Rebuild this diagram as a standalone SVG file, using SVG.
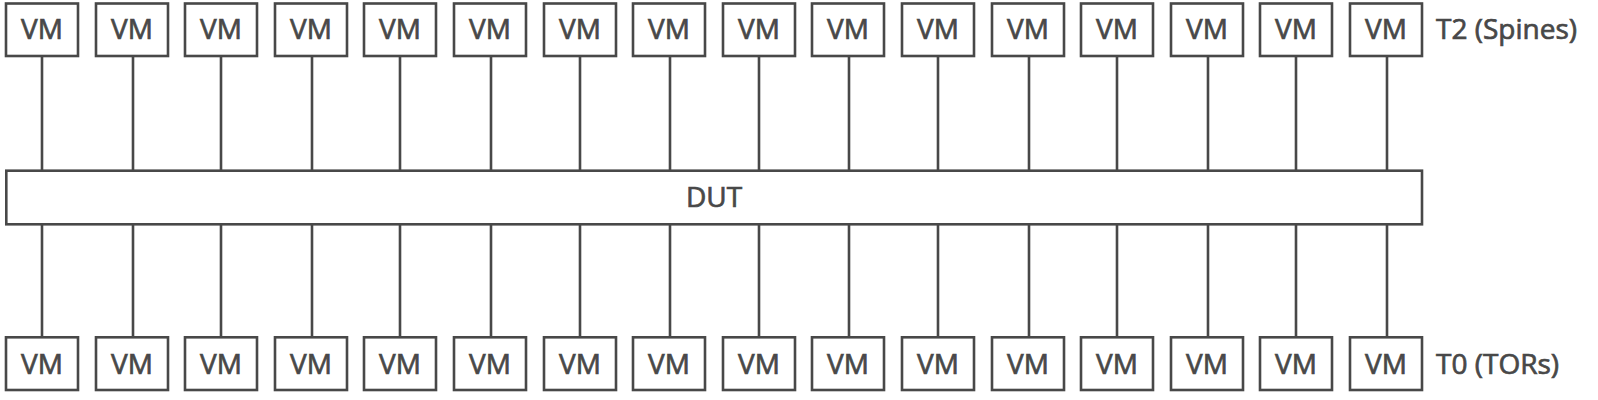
<svg xmlns="http://www.w3.org/2000/svg" width="1598" height="400" viewBox="0 0 1598 400">
<style>
.box{fill:#fff;stroke:#484848;stroke-width:2.6}
.ln{stroke:#484848;stroke-width:2.6;fill:none}
.t{font-family:"Open Sans","Liberation Sans",sans-serif;font-size:28px;fill:#484848;stroke:#484848;stroke-width:0.7}
.c{text-anchor:middle}
</style>
<rect width="1598" height="400" fill="#fff"/>
<g id="connectors">
<path class="ln" d="M42,56V171M133,56V171M221,56V171M312,56V171M400,56V171M491,56V171M580,56V171M670,56V171M759,56V171M849,56V171M938,56V171M1029,56V171M1117,56V171M1208,56V171M1296,56V171M1387,56V171"/>
<path class="ln" d="M42,224V338M133,224V338M221,224V338M312,224V338M400,224V338M491,224V338M580,224V338M670,224V338M759,224V338M849,224V338M938,224V338M1029,224V338M1117,224V338M1208,224V338M1296,224V338M1387,224V338"/>
</g>
<g id="dut"><rect class="box" x="6.3" y="170.7" width="1415.7" height="53.6"/><text class="t c" x="714" y="207">DUT</text></g>
<g id="t2-vms">
<g id="t2-1"><rect class="box" x="6" y="3.5" width="72" height="52.5"/><text class="t c" x="42" y="39">VM</text></g>
<g id="t2-2"><rect class="box" x="96" y="3.5" width="72" height="52.5"/><text class="t c" x="132" y="39">VM</text></g>
<g id="t2-3"><rect class="box" x="185" y="3.5" width="72" height="52.5"/><text class="t c" x="221" y="39">VM</text></g>
<g id="t2-4"><rect class="box" x="275" y="3.5" width="72" height="52.5"/><text class="t c" x="311" y="39">VM</text></g>
<g id="t2-5"><rect class="box" x="364" y="3.5" width="72" height="52.5"/><text class="t c" x="400" y="39">VM</text></g>
<g id="t2-6"><rect class="box" x="454" y="3.5" width="72" height="52.5"/><text class="t c" x="490" y="39">VM</text></g>
<g id="t2-7"><rect class="box" x="544" y="3.5" width="72" height="52.5"/><text class="t c" x="580" y="39">VM</text></g>
<g id="t2-8"><rect class="box" x="633" y="3.5" width="72" height="52.5"/><text class="t c" x="669" y="39">VM</text></g>
<g id="t2-9"><rect class="box" x="723" y="3.5" width="72" height="52.5"/><text class="t c" x="759" y="39">VM</text></g>
<g id="t2-10"><rect class="box" x="812" y="3.5" width="72" height="52.5"/><text class="t c" x="848" y="39">VM</text></g>
<g id="t2-11"><rect class="box" x="902" y="3.5" width="72" height="52.5"/><text class="t c" x="938" y="39">VM</text></g>
<g id="t2-12"><rect class="box" x="992" y="3.5" width="72" height="52.5"/><text class="t c" x="1028" y="39">VM</text></g>
<g id="t2-13"><rect class="box" x="1081" y="3.5" width="72" height="52.5"/><text class="t c" x="1117" y="39">VM</text></g>
<g id="t2-14"><rect class="box" x="1171" y="3.5" width="72" height="52.5"/><text class="t c" x="1207" y="39">VM</text></g>
<g id="t2-15"><rect class="box" x="1260" y="3.5" width="72" height="52.5"/><text class="t c" x="1296" y="39">VM</text></g>
<g id="t2-16"><rect class="box" x="1350" y="3.5" width="72" height="52.5"/><text class="t c" x="1386" y="39">VM</text></g>
</g>
<g id="t0-vms">
<g id="t0-1"><rect class="box" x="6" y="337.3" width="72" height="52.7"/><text class="t c" x="42" y="374">VM</text></g>
<g id="t0-2"><rect class="box" x="96" y="337.3" width="72" height="52.7"/><text class="t c" x="132" y="374">VM</text></g>
<g id="t0-3"><rect class="box" x="185" y="337.3" width="72" height="52.7"/><text class="t c" x="221" y="374">VM</text></g>
<g id="t0-4"><rect class="box" x="275" y="337.3" width="72" height="52.7"/><text class="t c" x="311" y="374">VM</text></g>
<g id="t0-5"><rect class="box" x="364" y="337.3" width="72" height="52.7"/><text class="t c" x="400" y="374">VM</text></g>
<g id="t0-6"><rect class="box" x="454" y="337.3" width="72" height="52.7"/><text class="t c" x="490" y="374">VM</text></g>
<g id="t0-7"><rect class="box" x="544" y="337.3" width="72" height="52.7"/><text class="t c" x="580" y="374">VM</text></g>
<g id="t0-8"><rect class="box" x="633" y="337.3" width="72" height="52.7"/><text class="t c" x="669" y="374">VM</text></g>
<g id="t0-9"><rect class="box" x="723" y="337.3" width="72" height="52.7"/><text class="t c" x="759" y="374">VM</text></g>
<g id="t0-10"><rect class="box" x="812" y="337.3" width="72" height="52.7"/><text class="t c" x="848" y="374">VM</text></g>
<g id="t0-11"><rect class="box" x="902" y="337.3" width="72" height="52.7"/><text class="t c" x="938" y="374">VM</text></g>
<g id="t0-12"><rect class="box" x="992" y="337.3" width="72" height="52.7"/><text class="t c" x="1028" y="374">VM</text></g>
<g id="t0-13"><rect class="box" x="1081" y="337.3" width="72" height="52.7"/><text class="t c" x="1117" y="374">VM</text></g>
<g id="t0-14"><rect class="box" x="1171" y="337.3" width="72" height="52.7"/><text class="t c" x="1207" y="374">VM</text></g>
<g id="t0-15"><rect class="box" x="1260" y="337.3" width="72" height="52.7"/><text class="t c" x="1296" y="374">VM</text></g>
<g id="t0-16"><rect class="box" x="1350" y="337.3" width="72" height="52.7"/><text class="t c" x="1386" y="374">VM</text></g>
</g>
<g id="labels">
<text class="t" x="1436" y="39">T2 (Spines)</text>
<text class="t" x="1436" y="374">T0 (TORs)</text>
</g>
</svg>
